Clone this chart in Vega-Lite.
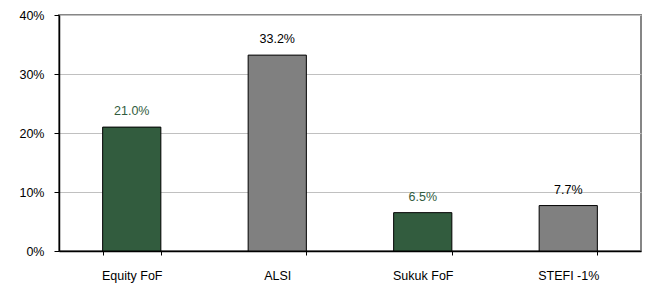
{
  "$schema": "https://vega.github.io/schema/vega-lite/v6.json",
  "width": 582,
  "height": 236,
  "autosize": {"type": "none"},
  "padding": {"left": 59, "top": 15, "right": 6, "bottom": 33},
  "background": "white",
  "config": {
    "view": {"stroke": "#868686", "strokeWidth": 2},
    "font": "Liberation Sans"
  },
  "data": {
    "values": [
      {"name": "Equity FoF", "value": 0.21, "type": "fund"},
      {"name": "ALSI", "value": 0.332, "type": "bench"},
      {"name": "Sukuk FoF", "value": 0.065, "type": "fund"},
      {"name": "STEFI -1%", "value": 0.077, "type": "bench"}
    ]
  },
  "encoding": {
    "x": {
      "field": "name",
      "type": "nominal",
      "sort": null,
      "scale": {"paddingInner": 0.6, "paddingOuter": 0.3},
      "axis": {
        "title": null,
        "labelAngle": 0,
        "labelFontSize": 12.5,
        "labelFontWeight": "normal",
        "labelColor": "black",
        "labelPadding": 14,
        "tickBand": "extent",
        "tickColor": "black",
        "tickSize": 4,
        "domainColor": "black",
        "domainWidth": 1.5,
        "grid": false
      }
    },
    "y": {
      "field": "value",
      "type": "quantitative",
      "scale": {"domain": [0, 0.4]},
      "axis": {
        "title": null,
        "format": ".0%",
        "values": [0, 0.1, 0.2, 0.3, 0.4],
        "labelFontSize": 12.5,
        "labelColor": "black",
        "labelPadding": 10,
        "tickColor": "black",
        "tickSize": 5,
        "domainColor": "black",
        "domainWidth": 1.5,
        "gridColor": "#c0c0c0",
        "gridWidth": 1
      }
    }
  },
  "layer": [
    {
      "mark": {"type": "bar", "stroke": "black", "strokeWidth": 1},
      "encoding": {
        "color": {
          "field": "type",
          "type": "nominal",
          "scale": {"domain": ["fund", "bench"], "range": ["#325c3e", "#808080"]},
          "legend": null
        }
      }
    },
    {
      "mark": {"type": "text", "dy": -9, "baseline": "bottom", "fontSize": 12.5},
      "encoding": {
        "text": {"field": "value", "type": "quantitative", "format": ".1%"},
        "color": {
          "field": "type",
          "type": "nominal",
          "scale": {"domain": ["fund", "bench"], "range": ["#325c3e", "#000000"]},
          "legend": null
        }
      }
    }
  ],
  "resolve": {"scale": {"color": "independent"}}
}
